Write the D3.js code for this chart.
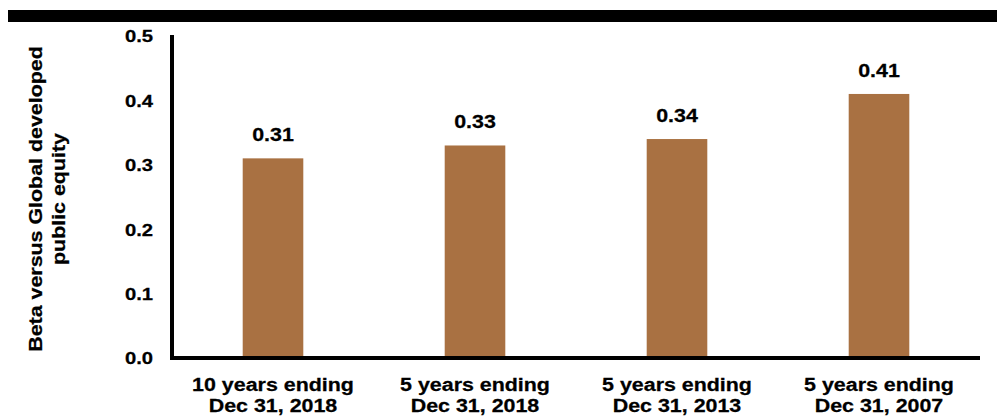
<!DOCTYPE html>
<html><head><meta charset="utf-8">
<script src="https://cdn.jsdelivr.net/npm/d3@7"></script>
<style>html,body{margin:0;padding:0;background:#fff;}svg{display:block;}</style>
</head><body>
<script>
const categories = [
  ["10 years ending", "Dec 31, 2018"],
  ["5 years ending", "Dec 31, 2018"],
  ["5 years ending", "Dec 31, 2013"],
  ["5 years ending", "Dec 31, 2007"]
];
const values = [0.31, 0.33, 0.34, 0.41];
const valueLabels = ["0.31", "0.33", "0.34", "0.41"];
const yTicks = [0.0, 0.1, 0.2, 0.3, 0.4, 0.5];
const yTitle = ["Beta versus Global developed", "public equity"];

const W = 997, H = 417;
const FONT = "'Liberation Sans', Arial, sans-serif";
const SX = 1.19;
const svg = d3.select("body").append("svg").attr("width", W).attr("height", H);

// top rule
svg.append("rect").attr("x", 8).attr("y", 10).attr("width", W - 8).attr("height", 12).attr("fill", "#000");

const x = d3.scaleBand().domain(d3.range(categories.length)).range([172, 980]).paddingInner(0.7).paddingOuter(0.35);
const y = d3.scaleLinear().domain([0, 0.5]).range([358, 36]);

// bars
svg.selectAll("rect.bar").data(values).enter().append("rect")
  .attr("class", "bar")
  .attr("x", (d, i) => x(i))
  .attr("y", d => y(d))
  .attr("width", x.bandwidth())
  .attr("height", d => y(0) - y(d))
  .attr("fill", "#A97142");

// value labels
svg.selectAll("text.val").data(values).enter().append("text")
  .attr("class", "val")
  .attr("transform", (d, i) => `translate(${x(i) + x.bandwidth() / 2},${y(d) - 17}) scale(${SX},1)`)
  .attr("text-anchor", "middle")
  .attr("font-family", FONT).attr("font-weight", "bold").attr("font-size", 18)
  .attr("stroke", "#000").attr("stroke-width", 0.25)
  .text((d, i) => valueLabels[i]);

// y axis
const yAxis = d3.axisLeft(y).tickValues(yTicks).tickFormat(d3.format(".1f")).tickSize(0).tickPadding(0);
const gy = svg.append("g").attr("transform", "translate(172,0)").call(yAxis);
gy.select(".domain").remove();
gy.selectAll(".tick text")
  .attr("font-family", FONT).attr("font-weight", "bold").attr("font-size", 17).attr("fill", "#000")
  .attr("stroke", "#000").attr("stroke-width", 0.25)
  .attr("text-anchor", "end").attr("dy", "0.35em")
  .attr("x", null)
  .attr("transform", `translate(-19,0) scale(${SX},1)`);
svg.append("line").attr("x1", 172).attr("x2", 172).attr("y1", 35).attr("y2", 360)
  .attr("stroke", "#000").attr("stroke-width", 4);

// x axis
const xAxis = d3.axisBottom(x).tickSize(0).tickFormat(() => "");
const gx = svg.append("g").attr("transform", "translate(0,358)").call(xAxis);
gx.select(".domain").remove();
svg.append("line").attr("x1", 170).attr("x2", 980).attr("y1", 358).attr("y2", 358)
  .attr("stroke", "#000").attr("stroke-width", 4);
gx.selectAll(".tick").each(function(d) {
  const t = d3.select(this);
  categories[d].forEach((line, j) => {
    t.append("text")
      .attr("transform", `translate(0,${33 + j * 21}) scale(${SX},1)`)
      .attr("text-anchor", "middle")
      .attr("font-family", FONT).attr("font-weight", "bold").attr("font-size", 18).attr("fill", "#000")
      .attr("stroke", "#000").attr("stroke-width", 0.25)
      .text(line);
  });
});

// y title
yTitle.forEach((line, j) => {
  svg.append("text")
    .attr("transform", `translate(${42 + j * 23},199) rotate(-90) scale(${SX},1)`)
    .attr("text-anchor", "middle")
    .attr("font-family", FONT).attr("font-weight", "bold").attr("font-size", 18).attr("fill", "#000")
    .attr("stroke", "#000").attr("stroke-width", 0.25)
    .text(line);
});
</script>
</body></html>
